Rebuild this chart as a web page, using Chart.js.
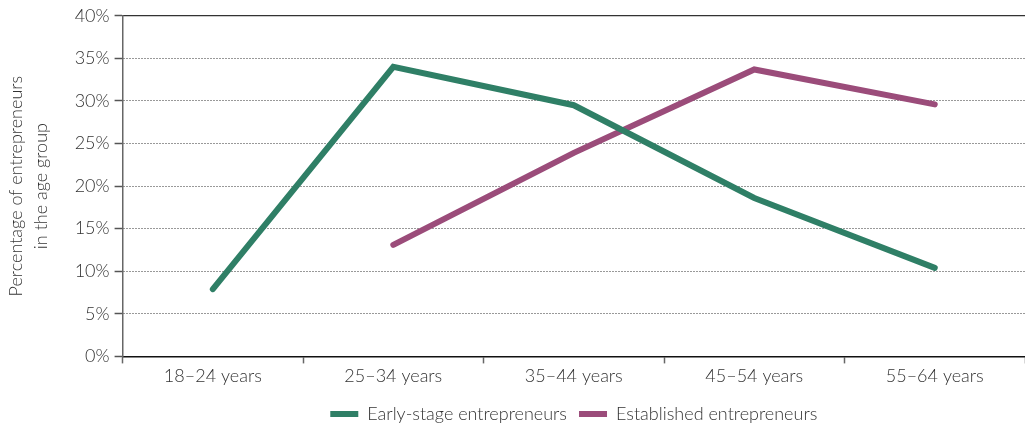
<!DOCTYPE html>
<html lang="en">
<head>
    <meta charset="UTF-8">
    <title>Entrepreneurs by age group</title>
    <script src="https://cdn.jsdelivr.net/npm/chart.js"></script>
    <style>
        html, body { margin: 0; padding: 0; background: #fff; }
        #wrap { width: 1025px; height: 427px; position: relative; }
    </style>
</head>
<body>
    <div id="wrap"><canvas id="ageChart"></canvas></div>

    <script>
        // Data
        const ageGroups = ["18–24 years", "25–34 years", "35–44 years", "45–54 years", "55–64 years"];
        const earlyStage = [7.9, 34.0, 29.5, 18.6, 10.4];
        const established = [null, 13.1, 23.9, 33.7, 29.6];
        const yTitle = ["Percentage of entrepreneurs", "in the age group"];

        const green = "#2f7f66";
        const purple = "#9b4c7a";
        const textColor = "#333";
        const font = { family: "Lato", size: 18, weight: 300 };

        const ctx = document.getElementById("ageChart").getContext("2d");
        new Chart(ctx, {
            type: "line",
            data: {
                labels: ageGroups,
                datasets: [{
                    label: "Early-stage entrepreneurs",
                    data: earlyStage,
                    borderColor: green,
                    backgroundColor: green,
                    borderWidth: 6,
                    borderCapStyle: "round",
                    borderJoinStyle: "miter",
                    pointRadius: 0,
                    pointHoverRadius: 0,
                    tension: 0
                }, {
                    label: "Established entrepreneurs",
                    data: established,
                    borderColor: purple,
                    backgroundColor: purple,
                    borderWidth: 6,
                    borderCapStyle: "round",
                    borderJoinStyle: "miter",
                    pointRadius: 0,
                    pointHoverRadius: 0,
                    tension: 0
                }]
            },
            options: {
                responsive: true,
                maintainAspectRatio: false,
                animation: false,
                layout: { padding: { top: 8, right: 0, left: 4, bottom: -6 } },
                plugins: {
                    tooltip: { enabled: false },
                    legend: {
                        position: "bottom",
                        fullSize: false,
                        labels: {
                            usePointStyle: true,
                            pointStyle: "line",
                            pointStyleWidth: 28,
                            boxWidth: 28,
                            boxHeight: 6,
                            padding: 12,
                            color: textColor,
                            font: font
                        }
                    }
                },
                scales: {
                    x: {
                        offset: true,
                        // a little extra room between the age labels and the legend
                        afterFit: scale => { scale.height += 4; },
                        grid: {
                            offset: true,
                            drawOnChartArea: false,
                            drawTicks: true,
                            tickLength: 7,
                            tickColor: "#666",
                            tickWidth: 1.5
                        },
                        border: { color: "#111", width: 1.5 },
                        ticks: { color: textColor, font: font, padding: 2, maxRotation: 0 }
                    },
                    x2: {
                        position: "top",
                        labels: ageGroups,
                        grid: { display: false, drawTicks: false },
                        border: { display: true, color: "#333", width: 1.2 },
                        ticks: { display: false }
                    },
                    y: {
                        min: 0,
                        max: 40,
                        ticks: {
                            stepSize: 5,
                            color: textColor,
                            font: font,
                            padding: 5,
                            callback: v => v + "%"
                        },
                        grid: {
                            color: c => (c.tick && (c.tick.value === 0 || c.tick.value === 40)) ? "rgba(0,0,0,0)" : "#333",
                            lineWidth: 1,
                            drawTicks: true,
                            tickLength: 8,
                            tickColor: "#555",
                            tickWidth: 1.5
                        },
                        border: { color: "#666", width: 1.5, dash: [1, 2] },
                        title: {
                            display: true,
                            text: yTitle,
                            color: textColor,
                            font: { family: "Lato", size: 18, weight: 300, lineHeight: 1.38 },
                            padding: { top: 0, bottom: 16 }
                        }
                    }
                }
            }
        });
    </script>
</body>
</html>
